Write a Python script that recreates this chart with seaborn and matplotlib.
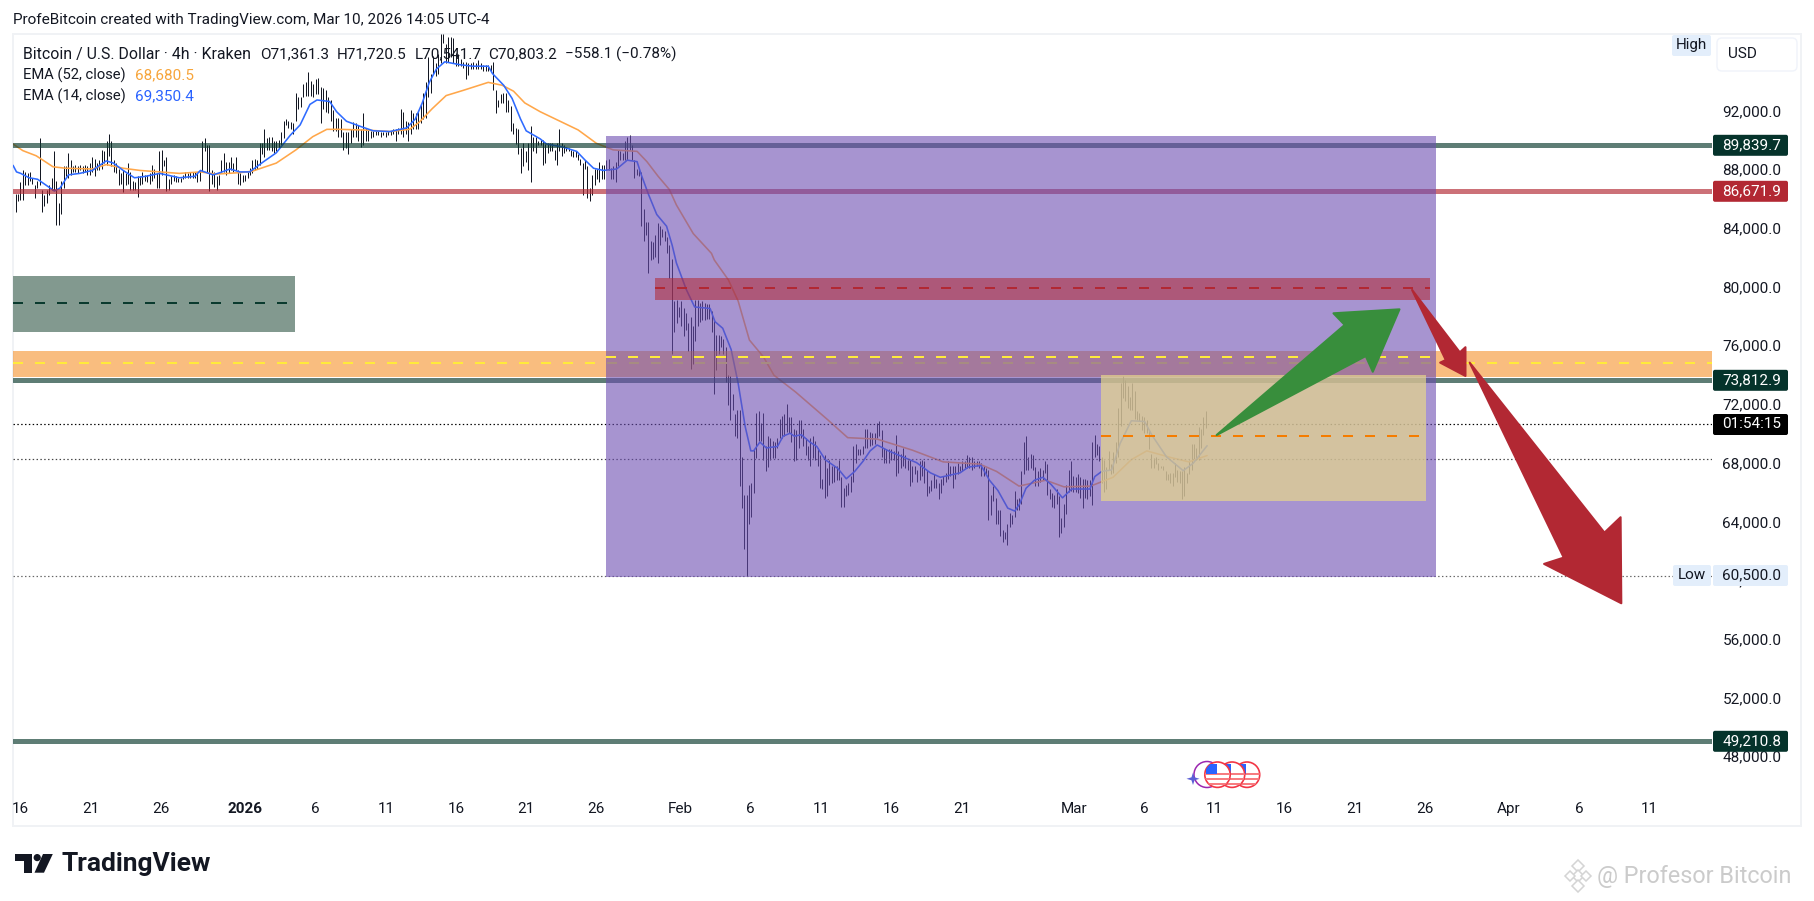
import numpy as np
import pandas as pd
import matplotlib
matplotlib.use("Agg")
import matplotlib.pyplot as plt
from matplotlib.patches import Polygon, Rectangle, Circle, FancyBboxPatch
from matplotlib.transforms import Affine2D, ScaledTranslation
import seaborn as sns

# ---------- data (prices in thousands of USD, days counted from 1 Jan 2026) ----------
bars_dec = [(86.5,85.3),(86.5,86.0),(87.3,86.1),(88.1,86.1),(88.0,87.1),(87.9,87.1),(88.0,87.4),(87.6,87.2),(87.1,86.2),(87.4,86.9),
(90.3,87.1),(86.8,85.3),(86.4,85.7),(86.8,85.9),(87.1,86.4),(87.6,86.8),(89.4,86.8),(87.4,84.4),(85.9,84.4),(87.4,85.1),
(88.4,86.9),(88.4,87.7),(89.3,87.6),(88.8,87.8),(88.4,88.0),(88.5,88.0),(88.4,87.9),(88.5,88.1),(88.4,87.9),(88.5,88.0),
(88.4,87.8),(88.6,87.8),(89.0,88.0),(88.9,87.7),(88.6,88.1),(88.8,88.1),(89.5,88.2),(89.4,88.6),(90.1,88.5),(90.6,89.1),
(90.1,88.4),(88.8,88.0),(88.6,87.9),(88.2,87.1),(87.9,87.2),(88.1,86.6),(87.9,87.1),(88.6,87.2),(88.0,86.8),(87.4,86.8),
(87.3,86.8),(87.7,86.3),(87.7,87.1),(88.0,87.2),(87.8,87.4),(87.8,87.3),(87.9,87.2),(88.5,87.4),(88.2,87.6),(87.9,86.9),
(89.4,86.9),(89.5,87.8),(88.8,88.4),(89.0,86.7),(87.5,86.8),(87.7,87.2),(87.8,87.4),(87.7,87.3),(87.6,87.3),(87.6,87.3),
(87.8,87.5),(88.0,87.6),(87.9,87.6),(88.0,87.6),(88.0,87.6),(88.0,87.6),(87.9,87.3),(88.1,87.4),(90.1,88.0),(90.3,89.4),
(89.8,87.9),(89.8,86.7),(88.1,87.2),(88.0,87.0),(87.7,86.8),(87.8,87.1),(88.8,87.9),(89.3,88.0),(88.7,87.8),(88.7,87.9),
(89.0,88.1),(88.6,88.0),(89.0,88.1),(88.1,87.2),(87.9,87.1),(87.8,87.3),(87.8,87.4),(88.0,87.6),(88.3,87.8),(88.8,87.9),
(88.9,88.1),(88.8,88.2),(90.0,88.5),(90.0,89.2),(90.9,89.0),(90.3,89.5),(90.4,89.5),(90.4,89.4),(90.1,89.3),(90.1,89.4),
(90.2,89.6),(90.7,89.8),(91.5,90.3),(91.6,91.2)]

bars_jan_a = [(91.5,91.0),(91.4,90.9),(91.3,90.6),(93.4,91.5),(93.1,92.3),(93.1,92.4),(94.0,93.1),(94.1,93.2),(94.8,93.2),(94.2,93.2),
(94.0,93.1),(94.3,93.3),(94.4,93.3),(93.8,91.3),(93.7,92.3),(93.6,92.1),(93.1,92.0),(92.9,91.5),(92.2,90.8),(91.7,90.8),
(91.7,90.4),(91.6,90.4),(90.7,89.5),(90.7,89.6),(90.7,89.2),(90.9,90.0),(91.4,90.4),(91.3,90.4),(91.2,90.1),(90.9,89.7),
(92.0,89.8),(91.0,90.1),(90.9,90.1),(90.8,90.3),(90.8,90.4),(90.8,90.5),(90.8,90.5),(90.7,90.4),(90.7,90.5),(90.7,90.4),
(90.8,90.5),(90.8,90.5),(90.9,90.6),(90.9,90.1),(91.0,90.6),(92.3,90.6),(92.1,90.4),(91.5,90.6),(91.4,90.1),(92.2,90.6),
(92.0,90.9),(92.0,90.9),(92.1,90.9),(92.6,91.3),(93.4,91.6),(94.1,91.7),(95.8,93.1),(94.7,93.4),(95.9,94.7),(95.4,94.5),
(96.0,94.7),(97.4,95.4),(97.4,96.8),(96.7,95.4),(97.2,95.5),(97.2,95.8),(97.1,95.4),(96.1,95.2),(96.0,95.2),(95.7,95.2),
(95.5,95.1),(95.5,94.3),(95.4,94.6),(95.4,95.0),(95.5,95.0),(95.4,95.0),(95.6,95.0),(95.4,95.0),(95.3,94.9),(95.3,94.9),
(95.3,94.9),(95.3,94.9),(95.5,93.6),(93.6,92.0),(92.9,92.4),(93.3,92.7),(93.4,92.7),(93.4,92.1),(92.9,92.1),(92.5,90.8),
(91.3,90.6),(91.0,89.9),(90.9,89.2),(89.6,87.9),(90.0,88.4),(89.4,88.7),(90.0,88.1),(91.1,87.3),(90.4,89.4),(90.4,89.3),
(90.1,89.8)]

bars_jan_b = [(90.2,89.8),(90.2,88.5),(89.9,88.6),(90.0,89.3),(90.0,89.4),(90.0,89.4),(89.5,88.8),(90.0,88.5),(90.9,89.4),(90.0,89.1),
(89.8,89.3),(89.7,89.4),(89.6,89.4),(89.5,89.1),(89.4,89.0),(89.4,89.0),(89.2,88.8),(88.9,88.5),(88.6,86.4),(88.8,88.2),
(88.4,86.2),(86.9,86.0),(87.8,86.4),(88.2,87.1),(88.2,87.5),(88.7,87.3),(88.5,87.5),(88.5,87.5),(88.8,88.1),(88.9,88.1),
(88.3,87.5),(88.4,87.5),(88.7,87.3),(89.5,88.4),(89.4,88.8),(89.3,88.8),(90.1,88.8),(90.4,88.8),(90.5,89.5),(89.8,88.8),
(88.8,87.6),(88.2,87.8),(88.3,87.7),(88.0,84.3),(85.5,83.3),(84.6,83.7),(84.6,81.1),(83.3,82.0),(83.2,82.1),(83.7,82.2),
(84.5,81.8),(84.3,83.0),(84.1,83.6),(84.0,83.3),(83.6,82.5),(83.0,80.8),(82.1,75.6),(79.2,77.1),(79.3,77.7),(78.8,78.1),
(79.2,77.5),(78.7,76.8),(78.4,77.2),(77.7,75.8),(78.1,74.6),(77.5,74.9),(79.3,76.5),(79.3,77.5),(79.1,77.8),(79.2,77.9),
(79.1,77.9),(79.0,78.0),(79.0,78.0),(78.5,77.1),(78.0,72.9),(76.9,74.5),(76.9,75.6),(76.8,76.1),(76.6,75.6),(76.1,73.7),
(74.2,72.1),(74.1,71.1),(72.9,71.8),(71.5,70.0),(71.8,69.9),(71.8,66.6),(68.6,65.1),(66.0,62.3),(66.0,60.5),(66.7,64.0),
(66.8,64.5),(69.1,66.1),(71.6,68.5),(71.7,69.7),(70.9,69.7),(71.6,68.4),(69.3,67.6),(70.0,67.9),(69.9,68.4),(69.7,68.5),
(69.6,68.5),(69.9,69.2),(71.2,69.9)]

bars_feb = [(71.4,69.9),(71.5,70.0),(72.2,70.3),(71.3,70.2),(71.3,69.6),(70.5,68.3),(70.4,68.4),(71.1,69.2),(71.1,69.9),(70.5,69.3),
(69.9,68.7),(69.3,68.4),(69.9,68.0),(70.0,68.5),(69.7,68.4),(69.2,68.0),(68.7,66.5),(67.1,66.4),(68.7,65.8),(67.8,65.9),
(68.4,66.7),(68.0,66.8),(68.0,66.9),(68.0,67.0),(68.4,67.0),(67.2,65.2),(66.5,65.2),(66.7,65.9),(66.8,66.0),(67.3,66.2),
(69.3,66.9),(69.5,68.2),(69.1,68.7),(69.1,68.7),(69.3,68.8),(70.5,69.2),(70.5,69.2),(70.3,69.3),(70.2,69.4),(70.2,69.5),
(70.9,69.9),(71.0,70.0),(70.4,68.6),(69.2,68.2),(69.1,68.2),(69.1,68.2),(69.1,68.4),(69.0,68.4),(70.1,67.3),(69.0,67.5),
(68.8,67.8),(69.2,68.0),(68.7,67.8),(68.4,67.7),(68.4,66.6),(68.0,66.9),(68.0,67.4),(67.7,66.9),(68.3,67.0),(68.4,67.3),
(68.3,66.8),(67.7,65.9),(66.6,66.1),(67.0,66.3),(67.4,66.5),(67.1,66.5),(66.8,65.7),(67.1,66.1),(67.3,66.7),(67.5,66.9),
(68.3,67.1),(68.0,67.3),(68.0,66.5),(68.0,67.1),(68.2,67.4),(68.0,67.6),(68.3,67.6),(68.3,67.8),(68.7,67.8),(68.6,67.8),
(68.6,67.7),(68.3,67.8),(68.3,68.0),(68.3,67.8),(68.2,67.3),(68.0,67.3),(67.8,67.4),(67.7,64.3),(66.0,64.6),(66.6,65.6),
(65.8,64.0),(65.0,64.0),(65.0,63.2),(63.6,62.8),(63.5,63.0),(64.0,62.6),(64.8,63.8),(64.6,64.0),(66.3,64.5),(65.7,65.0),
(65.8,65.0)]

bars_mar = [(67.6,65.4),(69.6,67.4),(70.0,67.7),(68.6,67.7),(68.8,67.8),(68.7,67.7),(67.9,66.6),(67.6,66.6),(67.8,66.9),(67.7,67.0),
(68.3,67.5),(68.1,66.0),(66.4,65.7),(66.1,65.2),(66.0,65.1),(66.4,65.4),(65.9,63.1),(64.4,63.4),(65.4,63.8),(66.7,64.7),
(67.7,66.2),(68.3,66.3),(67.3,66.2),(67.2,66.2),(67.4,66.1),(67.2,65.8),(67.1,65.1),(67.1,65.8),(67.0,65.7),(67.0,65.9),
(69.6,65.3),(70.1,68.6),(69.5,68.7),(69.3,68.3),(68.6,66.8),(68.4,66.2),(67.9,66.4),(69.0,67.7),(68.1,67.4),(68.9,67.5),
(69.6,68.2),(71.9,68.6),(73.6,70.7),(74.1,72.6),(73.8,72.4),(73.4,71.9),(72.7,71.8),(73.6,71.8),(73.1,71.2),(71.7,71.1),
(71.6,71.0),(71.4,70.4),(71.3,70.2),(71.1,70.2),(70.4,69.1),(68.8,67.8),(68.5,67.8),(68.6,68.1),(68.2,67.7),(68.0,67.8),
(68.0,67.7),(67.6,67.0),(67.4,67.0),(67.5,66.8),(67.5,66.6),(68.2,67.2),(67.7,66.9),(67.6,66.8),(67.6,65.7),(67.9,65.9),
(67.5,66.8),(68.4,67.4),(69.5,67.7),(69.5,68.4),(69.2,68.4),(70.6,68.4),(70.5,69.2),(71.3,70.1),(71.72,70.54)]

bar_spans = [(-16.36, 2.89), (3.06, 20.86), (21.03, 38.05), (38.22, 55.12), (55.26, 68.4)]

ema14_day = [-16.55,-16.3,-16.0,-15.4,-14.8,-14.2,-13.6,-13.2,-12.6,-11.8,-10.9,-10.3,-9.9,-9.4,-8.7,-7.9,-7.1,-6.1,-5.4,-4.7,-3.6,-3.2,-2.3,-1.8,-1.1,-0.4,0.3,1.3,2.2,3.2,3.9,
 4.6,5.1,6.0,6.5,7.2,8.2,9.1,10.3,11.5,12.1,12.6,13.1,13.6,14.2,15.3,16.2,17.3,17.6,18.4,19.0,19.6,20.0,21.0,
 21.45,22.6,23.6,24.2,24.8,25.5,26.45,27.2,27.9,28.2,28.7,29.3,30.0,30.4,30.7,31.4,32.0,33.1,33.45,34.0,34.6,35.1,35.6,36.0,36.2,36.65,37.1,37.9,
 38.3,38.8,39.1,39.6,40.2,40.7,41.3,42.2,42.8,43.4,44.0,44.5,45.0,45.8,46.8,47.8,48.8,49.5,50.9,51.5,52.4,53.0,53.6,54.3,
 54.8,55.15,55.6,56.2,56.8,57.4,58.2,58.85,59.3,60.15,60.5,61.0,61.7,62.3,63.1,64.05,64.55,65.6,66.8,67.5,68.5]
ema14_val = [88.45,88.0,87.9,87.6,87.5,87.1,86.7,86.9,87.8,87.9,88.1,88.5,88.75,88.6,88.1,87.6,87.7,87.9,87.75,87.6,87.7,88.1,87.8,87.95,88.2,88.0,88.0,88.7,89.3,90.5,91.2,
 92.6,92.9,92.8,92.1,91.45,91.1,90.8,90.75,91.0,91.6,92.7,94.1,95.0,95.5,95.3,95.2,95.2,94.7,93.9,93.0,91.6,90.8,90.25,
 89.9,89.7,89.4,88.8,88.25,88.1,88.2,88.8,88.7,87.8,86.5,85.1,84.3,83.0,81.8,80.0,78.8,78.7,77.8,77.35,75.9,73.6,70.65,69.0,69.0,69.6,69.2,69.3,
 70.0,70.2,70.0,70.1,69.6,69.3,68.4,67.8,67.1,67.6,68.3,69.0,69.4,69.0,68.6,68.2,67.5,67.2,67.5,67.9,68.0,67.0,66.3,65.1,
 64.9,65.4,66.45,67.0,67.2,66.7,65.8,66.4,66.4,66.4,67.25,67.6,67.7,69.5,71.05,71.0,70.1,68.6,67.65,68.15,69.35]

ema52_day = [-16.55,-15.85,-14.9,-13.7,-12.8,-10.9,-9.9,-8.7,-7.5,-6.1,-4.7,-3.2,-2.1,-0.4,0.5,2.2,3.6,4.8,5.8,6.7,8.6,10.3,11.7,12.4,13.3,14.3,15.5,17.3,18.3,19.1,19.9,21.0,
 23.7,25.0,26.2,27.9,28.6,29.4,30.2,30.7,31.9,33.2,33.4,34.4,35.1,35.9,36.9,37.65,39.2,41.5,42.9,45.0,47.5,49.7,52.3,53.5,55.1,57.0,58.3,60.2,61.8,63.1,64.2,65.9,67.2,68.5]
ema52_val = [89.9,89.45,89.1,88.35,88.25,88.2,88.5,88.25,88.1,88.0,87.9,88.0,87.85,87.95,88.05,88.6,89.5,90.4,90.9,90.9,90.85,90.75,90.9,91.4,92.3,93.2,93.55,94.1,93.9,93.5,92.7,92.1,
 90.86,89.95,89.5,89.4,88.7,87.7,86.8,85.75,83.8,82.45,82.0,80.65,79.2,76.55,75.4,74.15,73.0,71.1,69.9,69.8,69.05,68.25,68.1,67.6,66.6,67.0,66.55,66.6,67.2,68.4,69.0,68.55,68.25,68.68]

level_teal = [89839.7, 73812.9, 49210.8]
level_red = [86671.9]
last_price = 70803.2
ema_dotted = 68427.0
low_price = 60500.0

price_ticks = [48, 52, 56, 60, 64, 68, 72, 76, 80, 84, 88, 92]
time_days = [-16, -11, -6, 0, 5, 10, 15, 20, 25, 31, 36, 41, 46, 51, 59, 64, 69, 74, 79, 84, 90, 95, 100]
time_labels = ["16", "21", "26", "2026", "6", "11", "16", "21", "26", "Feb", "6", "11", "16", "21", "Mar", "6", "11", "16", "21", "26", "Apr", "6", "11"]

zone_orange = (75.8, 74.05, 75.0)
zone_teal = (-16.55, 3.5, 80.91, 77.12, 79.09)
zone_red = (29.17, 84.37, 80.78, 79.3, 80.1)
zone_purple = (25.68, 84.83, 90.45, 60.4, 75.42)
zone_tan = (60.92, 84.07, 74.17, 65.59, 70.0)

arrow_green = [(69.18,70.08),(78.3,77.58),(77.5,78.37),(82.2,78.64),(80.3,74.39),(79.8,75.46)]
arrow_red_a = [(83.1,79.96),(86.5,75.71),(86.9,76.06),(86.9,74.1),(85.1,75.01),(85.5,75.19)]
arrow_red_b = [(87.2,75.01),(96.8,63.43),(97.95,64.48),(98.0,58.62),(92.5,61.3),(93.9,61.73)]

# ---------- figure ----------
W, H = 1815, 901
sns.set_theme(style="white")
FONT = "Roboto"
FS = 11.0
plt.rcParams["font.family"] = [FONT, "DejaVu Sans"]
fig = plt.figure(figsize=(W / 100, H / 100), dpi=100, facecolor="white")
L, R, T, B = 13, 1712, 34, 790
ax = fig.add_axes([L / W, 1 - B / H, (R - L) / W, (B - T) / H])
ax.set_facecolor("none")
for s in ax.spines.values():
    s.set_visible(False)
ax.set_xlim(-16.55, 104.46)
ax.set_ylim(45900, 97394)
px = Affine2D().scale(1 / W, -1 / H).translate(0, 1) + fig.transFigure
PT = 0.72

# panel border
for xy, wd, ht in [((12, 33), 1790, 2), ((12, 33), 2, 793), ((1800, 33), 2, 793), ((12, 825), 1790, 2)]:
    fig.add_artist(Rectangle(xy, wd, ht, transform=px, fc="#F0F2F5", ec="none", zorder=-5))

# candles
for bars, (d0, d1) in zip([bars_dec, bars_jan_a, bars_jan_b, bars_feb, bars_mar], bar_spans):
    arr = np.array(bars) * 1000
    ax.vlines(np.linspace(d0, d1, len(arr)), arr[:, 1], arr[:, 0], color="#131722", lw=1.0 * PT, zorder=3)

# EMAs
e14 = pd.DataFrame({"day": ema14_day, "price": np.array(ema14_val) * 1000})
e52 = pd.DataFrame({"day": ema52_day, "price": np.array(ema52_val) * 1000})
sns.lineplot(data=e52, x="day", y="price", ax=ax, color="#FFA74A", lw=1.6 * PT, estimator=None, sort=False, zorder=3.2)
sns.lineplot(data=e14, x="day", y="price", ax=ax, color="#2F6BFF", lw=1.6 * PT, estimator=None, sort=False, zorder=3.3)
ax.set_xlabel("")
ax.set_ylabel("")

# levels
for v in level_teal:
    ax.axhline(v, color=(10/255, 58/255, 46/255, 0.66), lw=5 * PT, zorder=4)
for v in level_red:
    ax.axhline(v, color=(178/255, 40/255, 51/255, 0.66), lw=5 * PT, zorder=4)
ax.axhline(last_price, color="#000000", lw=1.2 * PT, ls=(0, (1.2, 2)), zorder=4)
ax.axhline(ema_dotted, color="#444444", lw=1.2 * PT, ls=(0, (1.2, 2)), zorder=4)
ax.axhline(low_price, color="#666666", lw=1.2 * PT, ls=(0, (1.2, 2)), zorder=4)

DASH = (0, (5, 6))
def zone(x0, x1, hi, lo, mid, face, line, z):
    ax.add_patch(Rectangle((x0, lo * 1000), x1 - x0, (hi - lo) * 1000, fc=face, ec="none", zorder=z))
    ax.plot([x0, x1], [mid * 1000] * 2, color=line, lw=2 * PT, ls=DASH, dash_capstyle="butt", zorder=z + 0.01)

zone(ax.get_xlim()[0], ax.get_xlim()[1], zone_orange[0], zone_orange[1], zone_orange[2], (245/255, 124/255, 0, 0.5), "#FFEB3B", 4.2)
zone(*zone_teal, "#82998F", "#0A3A2E", 4.3)
zone(*zone_purple, (108/255, 77/255, 177/255, 0.6), "#FFEB3B", 5)
zone(*zone_red, (178/255, 40/255, 51/255, 0.55), "#B22833", 5.2)
zone(*zone_tan, (230/255, 215/255, 139/255, 0.7), "#F57C00", 5.4)

for pts, c in [(arrow_green, "#388E3C"), (arrow_red_a, "#B22833"), (arrow_red_b, "#B22833")]:
    ax.add_patch(Polygon([(d, p * 1000) for d, p in pts], closed=True, fc=c, ec=c, lw=1.5, joinstyle="round", zorder=6))

# axes ticks
ax.yaxis.tick_right()
ax.set_yticks([t * 1000 for t in price_ticks])
ax.set_yticklabels([f"{t * 1000:,.1f}" for t in price_ticks], fontsize=FS, color="#131722")
ax.tick_params(axis="y", length=0, pad=7.5)
shift_up = ScaledTranslation(0, 1.0 / 72, fig.dpi_scale_trans)
for lab in ax.get_yticklabels():
    lab.set_verticalalignment("center")
    lab.set_transform(lab.get_transform() + shift_up)
ax.set_xticks(time_days)
ax.set_xticklabels(time_labels, fontsize=FS, color="#131722")
ax.tick_params(axis="x", length=0, pad=8.5)
for lab, t in zip(ax.get_xticklabels(), time_labels):
    if t == "2026":
        lab.set_fontweight("bold")

def ptext(x, y, s, **kw):
    kw.setdefault("fontsize", FS)
    kw.setdefault("color", "#131722")
    kw.setdefault("va", "center")
    fig.text(x, y, s, transform=px, **kw)

def pbox(x0, y0, x1, y1, color, ec="none", z=8, r=2):
    fig.add_artist(FancyBboxPatch((x0 + r, y0 + r), x1 - x0 - 2 * r, y1 - y0 - 2 * r,
                                  boxstyle=f"round,pad={r},rounding_size={r}", transform=px,
                                  fc=color, ec=ec, lw=1, zorder=z))

# price labels
for yc, txt, col in [(145.3, "89,839.7", "#05332B"), (191.3, "86,671.9", "#B22833"), (380.3, "73,812.9", "#05332B"),
                     (424.5, "01:54:15", "#000000"), (741.3, "49,210.8", "#05332B")]:
    pbox(1713, yc - 10.5, 1788, yc + 10.5, col)
    ptext(1752, yc - 0.5, txt, color="white", ha="center", zorder=9)
pbox(1713, 565, 1788, 586, "#E3EEFB")
ptext(1752, 575, "60,500.0", ha="center", zorder=9)
pbox(1673, 565, 1711, 586, "#E3EEFB")
ptext(1692, 575, "Low", ha="center", zorder=9)
pbox(1672, 35, 1711, 56, "#E3EEFB")
ptext(1691.5, 45, "High", ha="center", zorder=9)
pbox(1717, 38, 1797, 71, "white", ec="#F0F3FA", r=5)
ptext(1728, 54.5, "USD", zorder=9)

# texts
ptext(13, 20, "ProfeBitcoin created with TradingView.com, Mar 10, 2026 14:05 UTC-4")
ptext(23, 54, "Bitcoin / U.S. Dollar · 4h · Kraken", fontsize=11.4)
for x, s in [(260, "O71,361.3"), (337, "H71,720.5"), (414.5, "L70,541.7"), (488.5, "C70,803.2"), (565.4, "−558.1 (−0.78%)")]:
    ptext(x, 54, s)
ptext(23, 75, "EMA (52, close)", fontsize=10.6)
ptext(135, 75, "68,680.5", color="#F7A53B")
ptext(23, 96, "EMA (14, close)", fontsize=10.6)
ptext(135, 96, "69,350.4", color="#2962FF")

# TradingView logo
fig.add_artist(Polygon([(15.5,854),(32,854),(32,872.7),(24,872.7),(24,861),(15.5,861)], transform=px, fc="#131722", ec="none"))
fig.add_artist(Circle((37.2,857.6), 3.6, transform=px, fc="#131722", ec="none"))
fig.add_artist(Polygon([(43,854),(52.8,854),(44,872.7),(34.5,872.7)], transform=px, fc="#131722", ec="none"))
ptext(62, 864, "TradingView", fontsize=19, fontweight="bold", color="#131722")

# watermark
ptext(1597, 876, "@ Profesor Bitcoin", fontsize=16.8, color="#CBCBCB")
for (cx, cy, s) in [(1578, 866, 6), (1578, 876, 6), (1578, 886, 6), (1570, 876, 5), (1586, 876, 5)]:
    fig.add_artist(Polygon([(cx, cy - s), (cx + s, cy), (cx, cy + s), (cx - s, cy)], transform=px, fc="white", ec="#D4D4D4", lw=1.1))

# event markers
fig.add_artist(Circle((1207, 774.5), 13, transform=px, fc="white", ec="#9C27B0", lw=1.1, zorder=7))
fig.add_artist(Polygon([(1193,772.5),(1194.5,777.3),(1199.5,778.8),(1194.5,780.3),(1193,785),(1191.5,780.3),(1186.5,778.8),(1191.5,777.3)],
                       transform=px, fc="#5B5FD6", ec="none", zorder=7.1))
for i, cx in enumerate([1247, 1232, 1217.5]):
    z = 7.2 + i * 0.1
    c = Circle((cx, 774.7), 12.7, transform=px, fc="white", ec="#F23645", lw=1.2, zorder=z)
    fig.add_artist(c)
    for dy in [-2, 3, 8]:
        st = Rectangle((cx - 13, 774.7 + dy), 26, 2.4, transform=px, fc="#F77C80", ec="none", zorder=z + 0.01)
        fig.add_artist(st)
        st.set_clip_path(c)
    bl = Rectangle((cx - 11, 764), 10.5, 9.5, transform=px, fc="#2962FF", ec="none", zorder=z + 0.02)
    fig.add_artist(bl)
    bl.set_clip_path(c)

fig.savefig("out.png", dpi=100, facecolor="white")
